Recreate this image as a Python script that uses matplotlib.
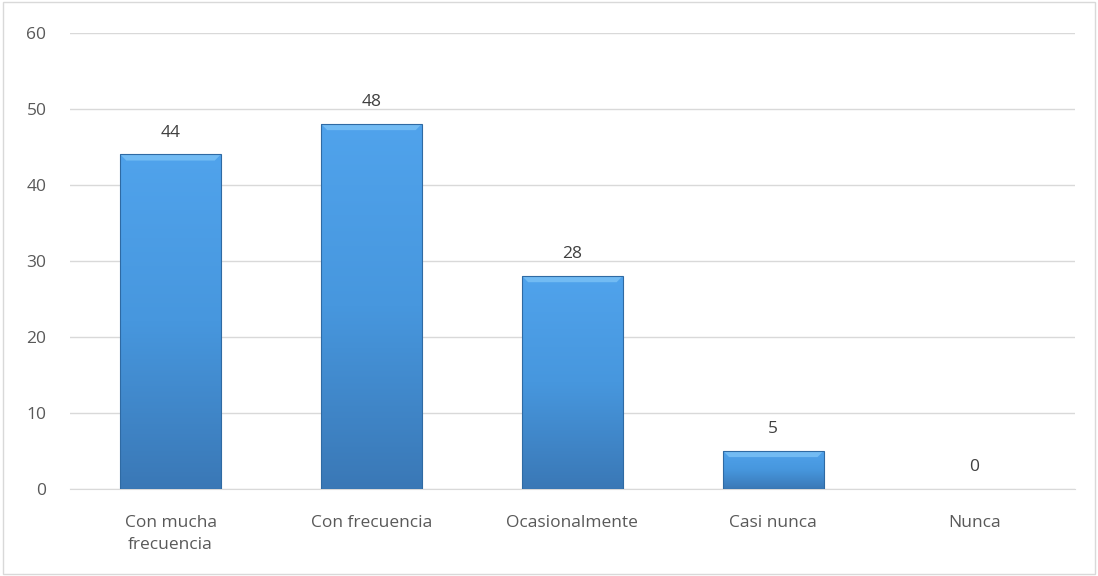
import numpy as np
import matplotlib
matplotlib.use("Agg")
import matplotlib.pyplot as plt
from matplotlib.colors import LinearSegmentedColormap
from matplotlib.patches import Polygon, Rectangle

categorias = ["Con mucha\nfrecuencia", "Con frecuencia", "Ocasionalmente", "Casi nunca", "Nunca"]
valores = [44, 48, 28, 5, 0]
ticks_y = [0, 10, 20, 30, 40, 50, 60]

plt.rcParams['font.family'] = ['Open Sans', 'DejaVu Sans']

fig = plt.figure(figsize=(10.98, 5.76), dpi=100)
ax = fig.add_axes([0.0638, 0.151, 0.915, 0.792])

x = np.arange(len(categorias))
ancho = 0.5
barras = ax.bar(x, valores, width=ancho, color="#4a96dc", edgecolor="none", zorder=2)

# degradado y bisel de cada barra
cmap = LinearSegmentedColormap.from_list("azul", ["#3a78b6", "#4797de", "#50a3ec"])
grad = np.linspace(0, 1, 256).reshape(-1, 1)
for b, v in zip(barras, valores):
    if v <= 0:
        continue
    x0, w = b.get_x(), b.get_width()
    # sombra suave
    ax.add_patch(Rectangle((x0 + 0.008, -0.1), w, v, facecolor="#000000", alpha=0.12,
                           edgecolor="none", zorder=2))
    im = ax.imshow(grad, cmap=cmap, aspect="auto", origin="lower",
                   extent=[x0, x0 + w, 0, v], zorder=3)
    im.set_clip_path(b)
    bis = 0.8
    ax.add_patch(Polygon([[x0, v], [x0 + w, v], [x0 + w - 0.03, v - bis], [x0 + 0.03, v - bis]],
                         closed=True, facecolor="#72bbf3", edgecolor="none", zorder=4))
    ax.add_patch(Rectangle((x0, 0), w, v, fill=False, edgecolor="#2f6aa3", lw=0.8, zorder=5))

for xi, v in zip(x, valores):
    ax.text(xi, v + 1.8, str(v), ha="center", va="bottom", fontsize=12.5, color="#404040")

ax.set_xlim(-0.5, len(categorias) - 0.5)
ax.set_ylim(0, 60)
ax.set_yticks(ticks_y)
ax.set_xticks(x)
ax.set_xticklabels(categorias, linespacing=1.5)
ax.tick_params(axis="both", length=0, labelsize=12.5, labelcolor="#595959")
ax.tick_params(axis="x", pad=19)
ax.tick_params(axis="y", pad=17)
ax.yaxis.grid(True, color="#d9d9d9", lw=1, zorder=0)
ax.set_axisbelow(True)
for s in ["top", "right", "left"]:
    ax.spines[s].set_visible(False)
ax.spines["bottom"].set_color("#d9d9d9")

fig.patches.append(Rectangle((0.003, 0.003), 0.994, 0.994, transform=fig.transFigure,
                             fill=False, edgecolor="#d9d9d9", lw=1))

fig.savefig("out.png", dpi=100)
